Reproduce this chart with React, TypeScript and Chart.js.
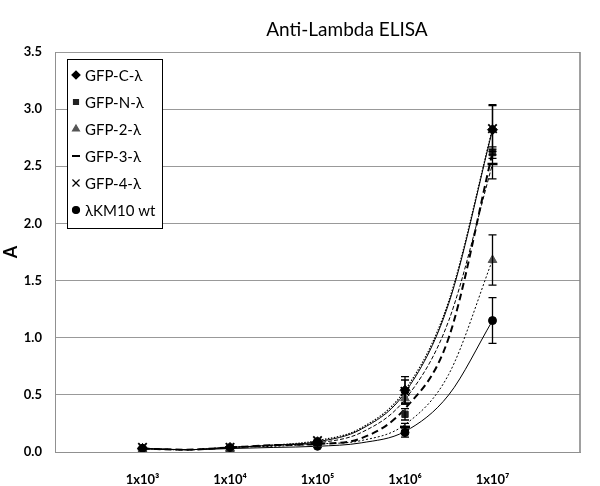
import React, { useEffect, useRef } from 'react';
import { Chart, registerables } from 'chart.js';
import { drawPoint } from 'chart.js/helpers';

Chart.register(...registerables);

const chartTitle = 'Anti-Lambda ELISA';
const yAxisTitle = 'A';
const tickLabels = ['1x10³', '1x10⁴', '1x10⁵', '1x10⁶', '1x10⁷'];
const decades = [3, 4, 5, 6, 7];
const yTicks = [0, 0.5, 1, 1.5, 2, 2.5, 3, 3.5];

const seriesNames = ['GFP-C-λ', 'GFP-N-λ', 'GFP-2-λ', 'GFP-3-λ', 'GFP-4-λ', 'λKM10 wt'];

const gfpC = [0.03, 0.04, 0.09, 0.54, 2.82];
const gfpN = [0.03, 0.04, 0.07, 0.33, 2.62];
const gfp2 = [0.03, 0.03, 0.07, 0.47, 1.68];
const gfp3 = [0.03, 0.04, 0.08, 0.22, 2.52];
const gfp4 = [0.04, 0.04, 0.1, 0.53, 2.83];
const km10 = [0.03, 0.03, 0.05, 0.17, 1.15];

const errC = [0.01, 0.01, 0.01, 0.12, 0.22];
const errN = [0, 0, 0.01, 0.05, 0.05];
const err2 = [0, 0, 0.01, 0.05, 0.22];
const err3 = [0, 0, 0.01, 0.03, 0.13];
const err4 = [0, 0, 0.01, 0.1, 0.2];
const errKM = [0, 0, 0.01, 0.04, 0.2];

// trend curves
const trendX = [3, 3.5, 4, 4.5, 5, 5.5, 6, 6.5, 7];
const trendC = [0.03, 0.02, 0.04, 0.06, 0.09, 0.2, 0.52, 1.3, 2.82];
const trendN = [0.03, 0.02, 0.04, 0.06, 0.07, 0.12, 0.38, 1.0, 2.62];
const trend2 = [0.03, 0.02, 0.04, 0.05, 0.07, 0.1, 0.24, 0.68, 1.68];
const trend3 = [0.03, 0.02, 0.04, 0.06, 0.08, 0.17, 0.46, 1.15, 2.52];
const trend4 = [0.03, 0.02, 0.04, 0.06, 0.1, 0.21, 0.54, 1.32, 2.83];
const trendKM = [0.03, 0.02, 0.03, 0.04, 0.05, 0.08, 0.18, 0.5, 1.15];

const FONT = 'Lato, "Open Sans", "Noto Sans", sans-serif';

const seriesValues = [gfpC, gfpN, gfp2, gfp3, gfp4, km10];
const seriesErrors = [errC, errN, err2, err3, err4, errKM];
const seriesTrends = [trendC, trendN, trend2, trend3, trend4, trendKM];
const markerStyles = ['rectRot', 'rect', 'triangle', 'line', 'crossRot', 'circle'];
const markerRadius = [5, 4.5, 5, 5, 6, 4];
const legendRadius = [4, 3.5, 4, 4, 5, 3.5];
const markerColors = ['#000', '#222', '#555', '#000', '#000', '#000'];
const trendDash = [[], [7, 4], [2, 2], [4, 2], [1.5, 1.5], []];
const trendWidth = [1, 2, 1, 1, 1.2, 1];

const errorBarPlugin = {
  id: 'errorBars',
  afterDatasetsDraw(chart: any) {
    const { ctx } = chart;
    const xs = chart.scales.x;
    const ys = chart.scales.y;
    ctx.save();
    ctx.strokeStyle = '#000';
    ctx.lineWidth = 1.3;
    chart.data.datasets.forEach((ds: any) => {
      if (!ds.errors) return;
      ds.data.forEach((p: any, j: number) => {
        const e = ds.errors[j];
        if (!e) return;
        const x = xs.getPixelForValue(p.x);
        const yt = ys.getPixelForValue(p.y + e);
        const yb = ys.getPixelForValue(p.y - e);
        ctx.beginPath();
        ctx.moveTo(x, yt);
        ctx.lineTo(x, yb);
        ctx.moveTo(x - 4, yt);
        ctx.lineTo(x + 4, yt);
        ctx.moveTo(x - 4, yb);
        ctx.lineTo(x + 4, yb);
        ctx.stroke();
      });
    });
    ctx.restore();
  },
};

const framePlugin = {
  id: 'frameAndText',
  afterDraw(chart: any) {
    const { ctx, chartArea } = chart;
    ctx.save();
    // right border of plot area
    ctx.strokeStyle = '#808080';
    ctx.lineWidth = 1.5;
    ctx.beginPath();
    ctx.moveTo(chartArea.right, chartArea.top);
    ctx.lineTo(chartArea.right, chartArea.bottom);
    ctx.stroke();

    // title
    ctx.fillStyle = '#000';
    ctx.font = `19px ${FONT}`;
    ctx.textAlign = 'center';
    ctx.textBaseline = 'middle';
    ctx.fillText(chartTitle, 347, 30);

    // legend box
    const x0 = chartArea.left + 12;
    const y0 = chartArea.top + 7;
    const w = 95;
    const h = 169;
    ctx.fillStyle = '#fff';
    ctx.fillRect(x0, y0, w, h);
    ctx.strokeStyle = '#000';
    ctx.lineWidth = 1;
    ctx.strokeRect(x0 + 0.5, y0 + 0.5, w, h);
    ctx.font = `15px ${FONT}`;
    ctx.textAlign = 'left';
    for (let i = 0; i < seriesNames.length; i++) {
      const cy = y0 + 16 + i * 27;
      ctx.fillStyle = markerColors[i];
      ctx.strokeStyle = markerColors[i];
      ctx.lineWidth = markerStyles[i] === 'line' ? 2 : 1.2;
      drawPoint(ctx, { pointStyle: markerStyles[i], radius: legendRadius[i], rotation: 0, borderWidth: ctx.lineWidth }, x0 + 9, cy);
      ctx.fillStyle = '#000';
      ctx.fillText(seriesNames[i], x0 + 18, cy + 1);
    }
    ctx.restore();
  },
};

export default function App() {
  const ref = useRef<HTMLCanvasElement>(null);
  useEffect(() => {
    if (!ref.current) return;
    const markerSets = seriesNames.map((name, i) => ({
      label: name,
      data: decades.map((x, j) => ({ x, y: seriesValues[i][j] })),
      errors: seriesErrors[i],
      showLine: false,
      pointStyle: markerStyles[i],
      pointRadius: markerRadius[i],
      pointBackgroundColor: markerColors[i],
      pointBorderColor: markerColors[i],
      pointBorderWidth: markerStyles[i] === 'line' ? 2.5 : markerStyles[i] === 'crossRot' ? 1.8 : 1,
      borderColor: markerColors[i],
      backgroundColor: markerColors[i],
    }));
    const trendSets = seriesNames.map((name, i) => ({
      label: name + ' trend',
      data: trendX.map((x, j) => ({ x, y: seriesTrends[i][j] })),
      showLine: true,
      pointRadius: 0,
      borderColor: '#000',
      borderWidth: trendWidth[i],
      borderDash: trendDash[i],
      cubicInterpolationMode: 'monotone',
      fill: false,
    }));
    const chart = new Chart(ref.current, {
      type: 'scatter',
      data: { datasets: [...markerSets, ...trendSets] as any },
      options: {
        responsive: false,
        animation: false,
        layout: { padding: { top: 52, right: 3, left: 0, bottom: 0 } },
        plugins: {
          legend: { display: false },
          title: { display: false },
          tooltip: { enabled: false },
        },
        scales: {
          x: {
            type: 'linear',
            min: 2,
            max: 8,
            afterFit(scale: any) { scale.height = 34; },
            afterBuildTicks(scale: any) {
              scale.ticks = [2, ...decades, 8].map((v) => ({ value: v }));
            },
            grid: { display: false, drawTicks: false },
            border: { display: true, color: '#909090', width: 1 },
            ticks: {
              autoSkip: false,
              maxRotation: 0,
              padding: 20,
              color: '#000',
              font: { family: FONT, size: 13, weight: 'bold' },
              callback: (v: any) => {
                const idx = decades.indexOf(Number(v));
                return idx >= 0 ? tickLabels[idx] : '';
              },
            },
          },
          y: {
            min: 0,
            max: 3.5,
            afterFit(scale: any) { scale.width = 55; },
            afterBuildTicks(scale: any) {
              scale.ticks = yTicks.map((v) => ({ value: v }));
            },
            grid: { color: '#999', lineWidth: 1, drawTicks: false },
            border: { display: true, color: '#909090', width: 1 },
            title: {
              display: true,
              text: yAxisTitle,
              color: '#000',
              font: { family: FONT, size: 18, weight: 'bold' },
              padding: { top: 0, bottom: 0 },
            },
            ticks: {
              padding: 13,
              color: '#000',
              font: { family: FONT, size: 13, weight: 'bold' },
              callback: (v: any) => Number(v).toFixed(1),
            },
          },
        },
      } as any,
      plugins: [errorBarPlugin, framePlugin],
    });
    return () => chart.destroy();
  }, []);
  return (
    <div style={{ position: 'absolute', left: 0, top: 0, width: 600, height: 486, background: '#fff' }}>
      <canvas ref={ref} width={600} height={486} />
    </div>
  );
}
